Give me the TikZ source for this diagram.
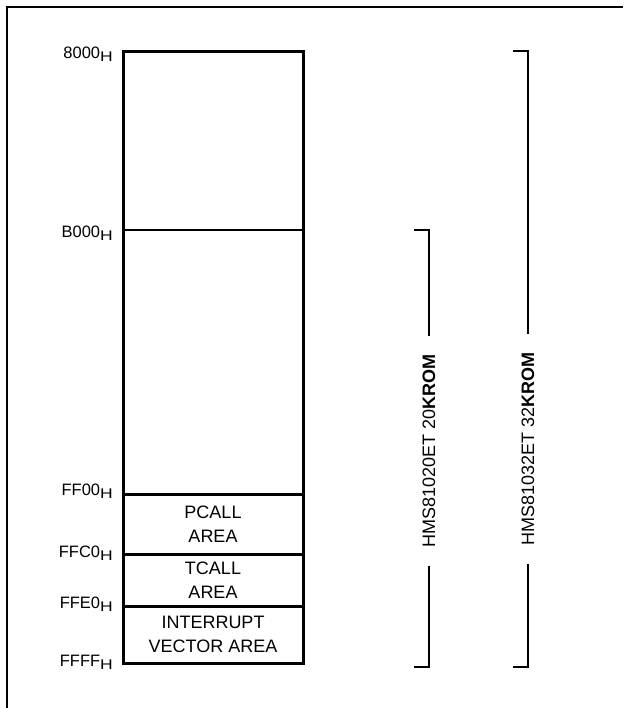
\documentclass[tikz,border=0pt]{standalone}
\usepackage{fontspec}
\usepackage{graphicx}
\setmainfont{Liberation Sans}
\usetikzlibrary{positioning,calc}

\newcommand{\hexaddr}[1]{#1\raisebox{-3pt}{\fontsize{14}{14}\selectfont\scalebox{1.25}[1]{H}}}

\begin{document}
\begin{tikzpicture}[
  x=1pt, y=-1pt,
  font=\fontsize{18}{24.5}\selectfont,
  addr/.style={anchor=base east, inner sep=0pt, font=\fontsize{16.5}{18}\selectfont},
  area/.style={align=center, inner sep=0pt},
  rom/.style={rotate=90, inner xsep=18pt, inner ysep=0pt},
  thick line/.style={line width=3pt},
  brk/.style={line width=1.2pt}
]
\useasboundingbox (0,0) rectangle (623,708);
% frame of the page
\draw[line width=2.5pt] (7,708) -- (7,7) -- (623,7);
% address marks
\foreach \y/\d/\name/\txt in {52/7/m8000/8000, 230/7/mb000/B000, 494/1/mff00/FF00,
    554/3/mffc0/FFC0, 606/2.5/mffe0/FFE0, 663/3.5/mffff/FFFF} {
  \coordinate (\name l) at (123,\y);
  \coordinate (\name r) at (303,\y);
  \node[addr] (\name) at ([xshift=-10pt,yshift=-\d pt]\name l) {\hexaddr{\txt}};
}
% memory map
\draw[thick line] (m8000l) rectangle (mffffr);
\draw[line width=2pt] (mb000l) -- (mb000r);
\draw[thick line] (mff00l) -- (mff00r);
\draw[thick line] (mffc0l) -- (mffc0r);
\draw[thick line] (mffe0l) -- (mffe0r);
\node[area] (pcall) at ($(mff00l)!0.5!(mffc0r)$) {PCALL\\AREA};
\node[area] (tcall) at ($(mffc0l)!0.5!(mffe0r)$) {TCALL\\AREA};
\node[area] (vect) at ($(mffe0l)!0.5!(mffffr)$) {INTERRUPT\\VECTOR AREA};
% ROM sizes
\node[rom] (rom20) at (429,451) {HMS81020ET 20\textbf{KROM}};
\node[rom] (rom32) at (528,449) {HMS81032ET 32\textbf{KROM}};
\coordinate (t20) at (414,230);
\coordinate (b20) at (414,667);
\coordinate (t32) at (513,51);
\coordinate (b32) at (513,667);
\draw[brk] (t20) -| (rom20.east);
\draw[brk] (rom20.west) |- (b20);
\draw[brk] (t32) -| (rom32.east);
\draw[brk] (rom32.west) |- (b32);
\end{tikzpicture}
\end{document}
